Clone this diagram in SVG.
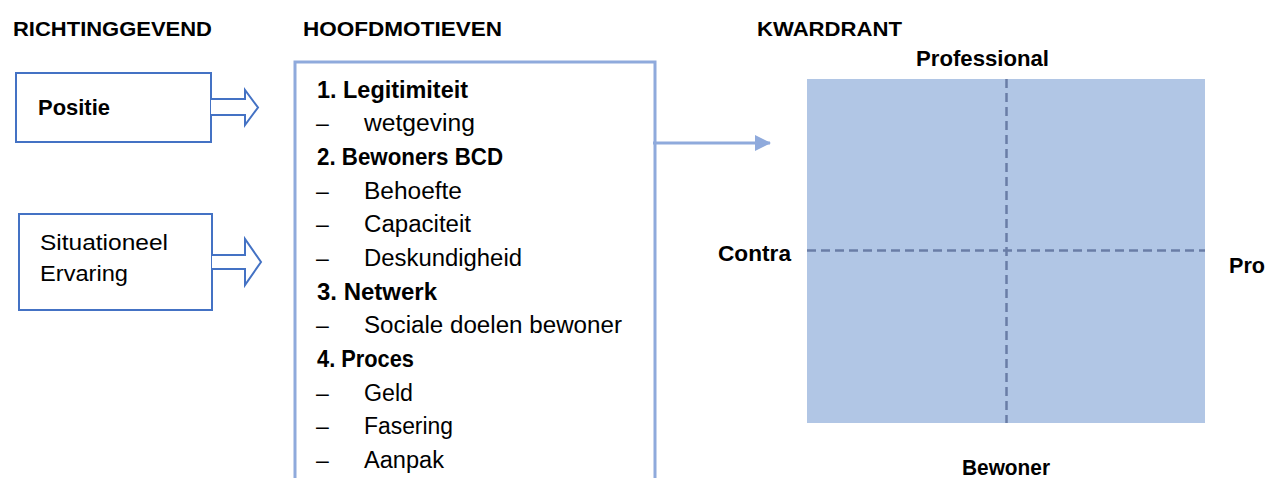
<svg xmlns="http://www.w3.org/2000/svg" width="1277" height="478" viewBox="0 0 1277 478">
  <defs>
    <marker id="arrowhead" viewBox="0 0 16 16" refX="15" refY="8" markerWidth="16" markerHeight="16" markerUnits="userSpaceOnUse" orient="auto">
      <path d="M0,0 L16,8 L0,16 Z" fill="#8FAADC"/>
    </marker>
    <style>
      text { font-family: "Liberation Sans", Arial, sans-serif; fill: #000; }
      .hdr { font-size: 21px; font-weight: bold; }
      .lbl { font-size: 22px; font-weight: bold; }
      .box-text { font-size: 22px; }
      .list { font-size: 23px; }
      .list .b { font-weight: bold; }
      .src-box { fill: #fff; stroke: #4472C4; stroke-width: 2; }
      .block-arrow { fill: #fff; stroke: #4472C4; stroke-width: 2; stroke-linejoin: miter; }
      .axis { stroke: #6A7DA6; stroke-width: 2.5; stroke-dasharray: 9 5; fill: none; }
    </style>
  </defs>

  <!-- column headers -->
  <g id="headers">
    <text class="hdr" x="13" y="36" textLength="199" lengthAdjust="spacingAndGlyphs">RICHTINGGEVEND</text>
    <text class="hdr" x="303" y="36" textLength="199" lengthAdjust="spacingAndGlyphs">HOOFDMOTIEVEN</text>
    <text class="hdr" x="757" y="36" textLength="145" lengthAdjust="spacingAndGlyphs">KWARDRANT</text>
  </g>

  <!-- input: Positie -->
  <g id="node-positie">
    <rect class="src-box" x="16" y="73" width="195" height="69"/>
    <path class="block-arrow" d="M211,99 H245 V90 L258,107.5 L245,125 V115 H211"/>
    <text class="box-text" x="38" y="115" font-weight="bold" textLength="72" lengthAdjust="spacingAndGlyphs">Positie</text>
  </g>

  <!-- input: Situationeel / Ervaring -->
  <g id="node-situationeel">
    <rect class="src-box" x="19" y="214" width="193" height="96"/>
    <path class="block-arrow" d="M212,255 H245 V239 L261,262 L245,285 V269 H212"/>
    <text class="box-text" x="40" y="250" textLength="128" lengthAdjust="spacingAndGlyphs">Situationeel</text>
    <text class="box-text" x="40" y="281" textLength="88" lengthAdjust="spacingAndGlyphs">Ervaring</text>
  </g>

  <!-- main motives list -->
  <g id="node-hoofdmotieven">
    <path d="M295,485 V62 H655 V485" fill="#fff" stroke="#8FAADC" stroke-width="3"/>
    <g class="list">
      <text class="b" x="317" y="97.7" textLength="151" lengthAdjust="spacingAndGlyphs">1. Legitimiteit</text>
      <text x="316" y="131.3">–</text>
      <text x="364" y="131.3" textLength="111" lengthAdjust="spacingAndGlyphs">wetgeving</text>
      <text class="b" x="317" y="165" textLength="186" lengthAdjust="spacingAndGlyphs">2. Bewoners BCD</text>
      <text x="316" y="198.6">–</text>
      <text x="364" y="198.6" textLength="98" lengthAdjust="spacingAndGlyphs">Behoefte</text>
      <text x="316" y="232.3">–</text>
      <text x="364" y="232.3" textLength="107" lengthAdjust="spacingAndGlyphs">Capaciteit</text>
      <text x="316" y="266">–</text>
      <text x="364" y="266" textLength="158" lengthAdjust="spacingAndGlyphs">Deskundigheid</text>
      <text class="b" x="317" y="299.6" textLength="120" lengthAdjust="spacingAndGlyphs">3. Netwerk</text>
      <text x="316" y="333.2">–</text>
      <text x="364" y="333.2" textLength="258" lengthAdjust="spacingAndGlyphs">Sociale doelen bewoner</text>
      <text class="b" x="317" y="366.9" textLength="97" lengthAdjust="spacingAndGlyphs">4. Proces</text>
      <text x="316" y="400.6">–</text>
      <text x="364" y="400.6" textLength="49" lengthAdjust="spacingAndGlyphs">Geld</text>
      <text x="316" y="434.2">–</text>
      <text x="364" y="434.2" textLength="89" lengthAdjust="spacingAndGlyphs">Fasering</text>
      <text x="316" y="467.9">–</text>
      <text x="364" y="467.9" textLength="80" lengthAdjust="spacingAndGlyphs">Aanpak</text>
    </g>
  </g>

  <!-- quadrant -->
  <g id="node-kwadrant">
    <rect x="807" y="79" width="398" height="344" fill="#B1C6E5"/>
    <line class="axis" x1="1006.5" y1="79" x2="1006.5" y2="423"/>
    <line class="axis" x1="807" y1="250.5" x2="1205" y2="250.5"/>
    <text class="lbl" x="916" y="66" textLength="133" lengthAdjust="spacingAndGlyphs">Professional</text>
    <text class="lbl" x="718" y="261" textLength="73" lengthAdjust="spacingAndGlyphs">Contra</text>
    <text class="lbl" x="1229" y="273" textLength="36" lengthAdjust="spacingAndGlyphs">Pro</text>
    <text class="lbl" x="962" y="475" textLength="88" lengthAdjust="spacingAndGlyphs">Bewoner</text>
  </g>

  <!-- connectors -->
  <g id="connectors">
    <line x1="653" y1="143" x2="770" y2="143" stroke="#8FAADC" stroke-width="3" marker-end="url(#arrowhead)"/>
  </g>
</svg>
